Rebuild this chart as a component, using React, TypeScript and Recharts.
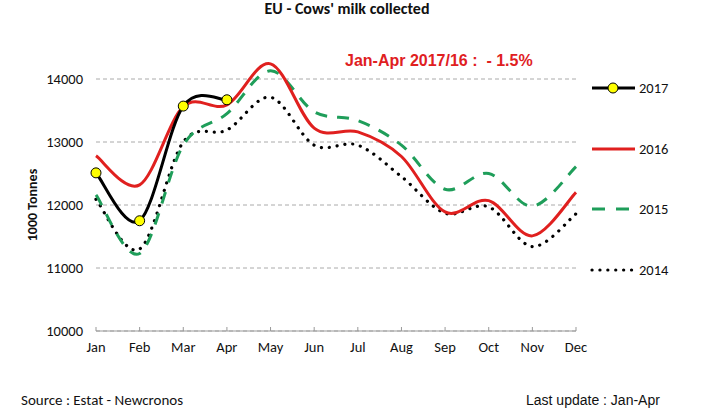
import React from 'react';
import { LineChart, Line, XAxis, YAxis, CartesianGrid } from 'recharts';

const months = ['Jan', 'Feb', 'Mar', 'Apr', 'May', 'Jun', 'Jul', 'Aug', 'Sep', 'Oct', 'Nov', 'Dec'];
const y2017 = [12510, 11750, 13570, 13670, null, null, null, null, null, null, null, null];
const y2016 = [12780, 12320, 13560, 13590, 14240, 13220, 13160, 12770, 11890, 12070, 11510, 12200];
const y2015 = [12160, 11230, 12950, 13450, 14130, 13480, 13340, 12950, 12250, 12500, 11980, 12610];
const y2014 = [12090, 11300, 13000, 13190, 13710, 12950, 12950, 12450, 11870, 11970, 11340, 11860];
const yTicks = [10000, 11000, 12000, 13000, 14000];

const data = months.map((m, i) => ({
  month: m,
  y2017: y2017[i],
  y2016: y2016[i],
  y2015: y2015[i],
  y2014: y2014[i],
}));

const FONT = 'Carlito, Lato, sans-serif';
const ARIAL = '"Liberation Sans", Arial, sans-serif';
const RED = '#e0201f';
const GREEN = '#1f9e5a';

// Excel-like smoothing (Catmull-Rom as cubic Bezier)
const excelCurve = (context: any) => {
  let pts: number[][] = [];
  return {
    areaStart() {},
    areaEnd() {},
    lineStart() {
      pts = [];
    },
    point(x: number, y: number) {
      pts.push([+x, +y]);
    },
    lineEnd() {
      if (!pts.length) return;
      context.moveTo(pts[0][0], pts[0][1]);
      for (let i = 0; i < pts.length - 1; i++) {
        const p0 = pts[i - 1] || pts[i];
        const p1 = pts[i];
        const p2 = pts[i + 1];
        const p3 = pts[i + 2] || pts[i + 1];
        context.bezierCurveTo(
          p1[0] + (p2[0] - p0[0]) / 6,
          p1[1] + (p2[1] - p0[1]) / 6,
          p2[0] - (p3[0] - p1[0]) / 6,
          p2[1] - (p3[1] - p1[1]) / 6,
          p2[0],
          p2[1]
        );
      }
    },
  };
};

const legendItems = [
  { name: '2017', color: '#000', dash: undefined, width: 3, marker: true, top: 88 },
  { name: '2016', color: RED, dash: undefined, width: 3, marker: false, top: 149 },
  { name: '2015', color: GREEN, dash: '13 11', width: 3, marker: false, top: 209 },
  { name: '2014', color: '#000', dash: '0.1 7.8', width: 3.2, marker: false, top: 270 },
];

export default function App() {
  return (
    <div
      style={{
        position: 'absolute',
        left: 0,
        top: 0,
        width: 728,
        height: 410,
        background: '#fff',
        fontFamily: FONT,
        overflow: 'hidden',
      }}
    >
      <LineChart
        width={728}
        height={410}
        data={data}
        margin={{ top: 47.5, right: 152, bottom: 49, left: 36 }}
      >
        <CartesianGrid
          vertical={false}
          stroke="#aaa"
          strokeDasharray="4 3"
          horizontalValues={yTicks}
        />
        <XAxis
          dataKey="month"
          height={30}
          axisLine={{ stroke: '#999', strokeWidth: 1.2 }}
          tickLine={{ stroke: '#999' }}
          tickSize={-4}
          tickMargin={15}
          tick={{ fill: '#111', fontSize: 14.5, fontFamily: FONT }}
          interval={0}
        />
        <YAxis
          width={60}
          domain={[10000, 14500]}
          ticks={yTicks}
          axisLine={false}
          tickLine={false}
          tickSize={0}
          tickMargin={13}
          tick={{ fill: '#111', fontSize: 14.5, fontFamily: FONT }}
          allowDataOverflow
        />
        <Line
          dataKey="y2014"
          type={excelCurve as any}
          stroke="#000"
          strokeWidth={3.2}
          strokeDasharray="0.1 7.8"
          strokeLinecap="round"
          dot={false}
          isAnimationActive={false}
        />
        <Line
          dataKey="y2015"
          type={excelCurve as any}
          stroke={GREEN}
          strokeWidth={3}
          strokeDasharray="12 10"
          dot={false}
          isAnimationActive={false}
        />
        <Line
          dataKey="y2016"
          type={excelCurve as any}
          stroke={RED}
          strokeWidth={3}
          dot={false}
          isAnimationActive={false}
        />
        <Line
          dataKey="y2017"
          type={excelCurve as any}
          stroke="#000"
          strokeWidth={3}
          dot={{ r: 5, fill: '#ffff00', stroke: '#000', strokeWidth: 1 }}
          connectNulls={false}
          isAnimationActive={false}
        />
      </LineChart>

      <div
        style={{
          position: 'absolute',
          left: 0,
          width: 694,
          top: 0,
          textAlign: 'center',
          fontSize: 16,
          lineHeight: '18px',
          fontWeight: 'bold',
          color: '#111',
        }}
      >
        EU - Cows' milk collected
      </div>

      <div
        style={{
          position: 'absolute',
          left: 345,
          top: 51,
          fontSize: 16,
          lineHeight: '20px',
          fontWeight: 'bold',
          color: RED,
          fontFamily: ARIAL,
          whiteSpace: 'pre',
        }}
      >
        {'Jan-Apr 2017/16 :  - 1.5%'}
      </div>

      <div
        style={{
          position: 'absolute',
          left: 32,
          top: 205,
          transform: 'translate(-50%, -50%) rotate(-90deg)',
          fontSize: 14,
          fontWeight: 'bold',
          color: '#111',
          whiteSpace: 'nowrap',
        }}
      >
        1000 Tonnes
      </div>

      {legendItems.map((it) => (
        <div
          key={it.name}
          style={{ position: 'absolute', left: 590, top: it.top - 10, height: 20, display: 'flex', alignItems: 'center' }}
        >
          <svg width={48} height={20}>
            <line
              x1={2}
              y1={10}
              x2={45}
              y2={10}
              stroke={it.color}
              strokeWidth={it.width}
              strokeDasharray={it.dash}
              strokeLinecap={it.name === '2014' ? 'round' : 'butt'}
            />
            {it.marker && <circle cx={23} cy={10} r={5} fill="#ffff00" stroke="#000" strokeWidth={1} />}
          </svg>
          <span style={{ fontSize: 14.5, color: '#111', marginLeft: 1 }}>{it.name}</span>
        </div>
      ))}

      <div style={{ position: 'absolute', left: 21, top: 391, fontSize: 15, lineHeight: '18px', color: '#111' }}>
        Source : Estat - Newcronos
      </div>
      <div
        style={{
          position: 'absolute',
          left: 526,
          top: 391,
          fontSize: 14,
          lineHeight: '18px',
          color: '#111',
          fontFamily: ARIAL,
        }}
      >
        Last update : Jan-Apr
      </div>
    </div>
  );
}
